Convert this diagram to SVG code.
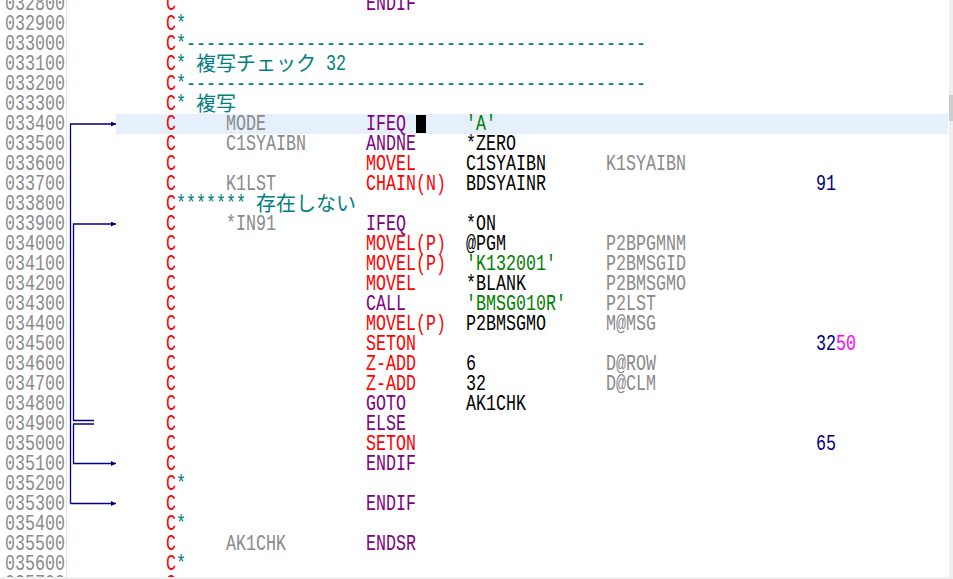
<svg xmlns="http://www.w3.org/2000/svg" width="953" height="579" viewBox="0 0 953 579">
<style>
text{font-family:"Liberation Mono","Noto Sans CJK JP",monospace;font-size:22px}
.j{font-family:"Noto Sans CJK JP","Noto Sans CJK SC",sans-serif;font-size:20px;fill:#008080}
.ln{fill:#8a8a8a}
.c{fill:#ff0000}
.cm{fill:#008080}
.f1{fill:#8a8a8a}
.op{fill:#800080}
.opr{fill:#ff0000}
.f2{fill:#000000}
.lit{fill:#008000}
.res{fill:#8a8a8a}
.ind{fill:#000080}
.ind2{fill:#ff00ff}
.cn{fill:none;stroke:#000080;stroke-width:1.3}
</style>
<defs>
<marker id="ah" markerUnits="userSpaceOnUse" markerWidth="6" markerHeight="6" refX="5" refY="2.5" orient="auto">
<path d="M0,0 L5,2.5 L0,5 z" fill="#000080"/>
</marker>
</defs>
<rect x="0" y="0" width="953" height="579" fill="#ffffff"/>
<line x1="66.5" y1="0" x2="66.5" y2="577" stroke="#e4e4e4" stroke-width="1"/>
<rect x="116" y="114" width="832" height="20" fill="#e6f0fc"/>
<rect x="416" y="115" width="10" height="18" fill="#000000"/>
<rect x="949" y="0" width="4" height="577" fill="#efefef"/>
<rect x="949" y="95" width="4" height="26" fill="#cdcdcd"/>
<rect x="0" y="577" width="953" height="2" fill="#efefef"/>

<g id="line-032800"><text class="ln" x="5" y="10" textLength="60" lengthAdjust="spacingAndGlyphs">032800</text><text class="c" x="166" y="10" textLength="10" lengthAdjust="spacingAndGlyphs">C</text><text class="op" x="366" y="10" textLength="50" lengthAdjust="spacingAndGlyphs">ENDIF</text></g>
<g id="line-032900"><text class="ln" x="5" y="30" textLength="60" lengthAdjust="spacingAndGlyphs">032900</text><text class="c" x="166" y="30" textLength="10" lengthAdjust="spacingAndGlyphs">C</text><text class="cm" x="176" y="30" textLength="10" lengthAdjust="spacingAndGlyphs">*</text></g>
<g id="line-033000"><text class="ln" x="5" y="50" textLength="60" lengthAdjust="spacingAndGlyphs">033000</text><text class="c" x="166" y="50" textLength="10" lengthAdjust="spacingAndGlyphs">C</text><text class="cm" x="176" y="50" textLength="470" lengthAdjust="spacingAndGlyphs">*----------------------------------------------</text></g>
<g id="line-033100"><text class="ln" x="5" y="70" textLength="60" lengthAdjust="spacingAndGlyphs">033100</text><text class="c" x="166" y="70" textLength="10" lengthAdjust="spacingAndGlyphs">C</text><text class="cm" x="176" y="70" textLength="10" lengthAdjust="spacingAndGlyphs">*</text><text class="j" x="196" y="71">複写チェック</text><text class="cm" x="326" y="70" textLength="20" lengthAdjust="spacingAndGlyphs">32</text></g>
<g id="line-033200"><text class="ln" x="5" y="90" textLength="60" lengthAdjust="spacingAndGlyphs">033200</text><text class="c" x="166" y="90" textLength="10" lengthAdjust="spacingAndGlyphs">C</text><text class="cm" x="176" y="90" textLength="470" lengthAdjust="spacingAndGlyphs">*----------------------------------------------</text></g>
<g id="line-033300"><text class="ln" x="5" y="110" textLength="60" lengthAdjust="spacingAndGlyphs">033300</text><text class="c" x="166" y="110" textLength="10" lengthAdjust="spacingAndGlyphs">C</text><text class="cm" x="176" y="110" textLength="10" lengthAdjust="spacingAndGlyphs">*</text><text class="j" x="196" y="111">複写</text></g>
<g id="line-033400"><text class="ln" x="5" y="130" textLength="60" lengthAdjust="spacingAndGlyphs">033400</text><text class="c" x="166" y="130" textLength="10" lengthAdjust="spacingAndGlyphs">C</text><text class="f1" x="226" y="130" textLength="40" lengthAdjust="spacingAndGlyphs">MODE</text><text class="op" x="366" y="130" textLength="40" lengthAdjust="spacingAndGlyphs">IFEQ</text><text class="lit" x="466" y="130" textLength="30" lengthAdjust="spacingAndGlyphs">'A'</text></g>
<g id="line-033500"><text class="ln" x="5" y="150" textLength="60" lengthAdjust="spacingAndGlyphs">033500</text><text class="c" x="166" y="150" textLength="10" lengthAdjust="spacingAndGlyphs">C</text><text class="f1" x="226" y="150" textLength="80" lengthAdjust="spacingAndGlyphs">C1SYAIBN</text><text class="op" x="366" y="150" textLength="50" lengthAdjust="spacingAndGlyphs">ANDNE</text><text class="f2" x="466" y="150" textLength="50" lengthAdjust="spacingAndGlyphs">*ZERO</text></g>
<g id="line-033600"><text class="ln" x="5" y="170" textLength="60" lengthAdjust="spacingAndGlyphs">033600</text><text class="c" x="166" y="170" textLength="10" lengthAdjust="spacingAndGlyphs">C</text><text class="opr" x="366" y="170" textLength="50" lengthAdjust="spacingAndGlyphs">MOVEL</text><text class="f2" x="466" y="170" textLength="80" lengthAdjust="spacingAndGlyphs">C1SYAIBN</text><text class="res" x="606" y="170" textLength="80" lengthAdjust="spacingAndGlyphs">K1SYAIBN</text></g>
<g id="line-033700"><text class="ln" x="5" y="190" textLength="60" lengthAdjust="spacingAndGlyphs">033700</text><text class="c" x="166" y="190" textLength="10" lengthAdjust="spacingAndGlyphs">C</text><text class="f1" x="226" y="190" textLength="50" lengthAdjust="spacingAndGlyphs">K1LST</text><text class="opr" x="366" y="190" textLength="80" lengthAdjust="spacingAndGlyphs">CHAIN(N)</text><text class="f2" x="466" y="190" textLength="80" lengthAdjust="spacingAndGlyphs">BDSYAINR</text><text class="ind" x="816" y="190" textLength="20" lengthAdjust="spacingAndGlyphs">91</text></g>
<g id="line-033800"><text class="ln" x="5" y="210" textLength="60" lengthAdjust="spacingAndGlyphs">033800</text><text class="c" x="166" y="210" textLength="10" lengthAdjust="spacingAndGlyphs">C</text><text class="cm" x="176" y="210" textLength="70" lengthAdjust="spacingAndGlyphs">*******</text><text class="j" x="256" y="211">存在しない</text></g>
<g id="line-033900"><text class="ln" x="5" y="230" textLength="60" lengthAdjust="spacingAndGlyphs">033900</text><text class="c" x="166" y="230" textLength="10" lengthAdjust="spacingAndGlyphs">C</text><text class="f1" x="226" y="230" textLength="50" lengthAdjust="spacingAndGlyphs">*IN91</text><text class="op" x="366" y="230" textLength="40" lengthAdjust="spacingAndGlyphs">IFEQ</text><text class="f2" x="466" y="230" textLength="30" lengthAdjust="spacingAndGlyphs">*ON</text></g>
<g id="line-034000"><text class="ln" x="5" y="250" textLength="60" lengthAdjust="spacingAndGlyphs">034000</text><text class="c" x="166" y="250" textLength="10" lengthAdjust="spacingAndGlyphs">C</text><text class="opr" x="366" y="250" textLength="80" lengthAdjust="spacingAndGlyphs">MOVEL(P)</text><text class="f2" x="466" y="250" textLength="40" lengthAdjust="spacingAndGlyphs">@PGM</text><text class="res" x="606" y="250" textLength="80" lengthAdjust="spacingAndGlyphs">P2BPGMNM</text></g>
<g id="line-034100"><text class="ln" x="5" y="270" textLength="60" lengthAdjust="spacingAndGlyphs">034100</text><text class="c" x="166" y="270" textLength="10" lengthAdjust="spacingAndGlyphs">C</text><text class="opr" x="366" y="270" textLength="80" lengthAdjust="spacingAndGlyphs">MOVEL(P)</text><text class="lit" x="466" y="270" textLength="90" lengthAdjust="spacingAndGlyphs">'K132001'</text><text class="res" x="606" y="270" textLength="80" lengthAdjust="spacingAndGlyphs">P2BMSGID</text></g>
<g id="line-034200"><text class="ln" x="5" y="290" textLength="60" lengthAdjust="spacingAndGlyphs">034200</text><text class="c" x="166" y="290" textLength="10" lengthAdjust="spacingAndGlyphs">C</text><text class="opr" x="366" y="290" textLength="50" lengthAdjust="spacingAndGlyphs">MOVEL</text><text class="f2" x="466" y="290" textLength="60" lengthAdjust="spacingAndGlyphs">*BLANK</text><text class="res" x="606" y="290" textLength="80" lengthAdjust="spacingAndGlyphs">P2BMSGMO</text></g>
<g id="line-034300"><text class="ln" x="5" y="310" textLength="60" lengthAdjust="spacingAndGlyphs">034300</text><text class="c" x="166" y="310" textLength="10" lengthAdjust="spacingAndGlyphs">C</text><text class="op" x="366" y="310" textLength="40" lengthAdjust="spacingAndGlyphs">CALL</text><text class="lit" x="466" y="310" textLength="100" lengthAdjust="spacingAndGlyphs">'BMSG010R'</text><text class="res" x="606" y="310" textLength="50" lengthAdjust="spacingAndGlyphs">P2LST</text></g>
<g id="line-034400"><text class="ln" x="5" y="330" textLength="60" lengthAdjust="spacingAndGlyphs">034400</text><text class="c" x="166" y="330" textLength="10" lengthAdjust="spacingAndGlyphs">C</text><text class="opr" x="366" y="330" textLength="80" lengthAdjust="spacingAndGlyphs">MOVEL(P)</text><text class="f2" x="466" y="330" textLength="80" lengthAdjust="spacingAndGlyphs">P2BMSGMO</text><text class="res" x="606" y="330" textLength="50" lengthAdjust="spacingAndGlyphs">M@MSG</text></g>
<g id="line-034500"><text class="ln" x="5" y="350" textLength="60" lengthAdjust="spacingAndGlyphs">034500</text><text class="c" x="166" y="350" textLength="10" lengthAdjust="spacingAndGlyphs">C</text><text class="opr" x="366" y="350" textLength="50" lengthAdjust="spacingAndGlyphs">SETON</text><text class="ind" x="816" y="350" textLength="20" lengthAdjust="spacingAndGlyphs">32</text><text class="ind2" x="836" y="350" textLength="20" lengthAdjust="spacingAndGlyphs">50</text></g>
<g id="line-034600"><text class="ln" x="5" y="370" textLength="60" lengthAdjust="spacingAndGlyphs">034600</text><text class="c" x="166" y="370" textLength="10" lengthAdjust="spacingAndGlyphs">C</text><text class="opr" x="366" y="370" textLength="50" lengthAdjust="spacingAndGlyphs">Z-ADD</text><text class="f2" x="466" y="370" textLength="10" lengthAdjust="spacingAndGlyphs">6</text><text class="res" x="606" y="370" textLength="50" lengthAdjust="spacingAndGlyphs">D@ROW</text></g>
<g id="line-034700"><text class="ln" x="5" y="390" textLength="60" lengthAdjust="spacingAndGlyphs">034700</text><text class="c" x="166" y="390" textLength="10" lengthAdjust="spacingAndGlyphs">C</text><text class="opr" x="366" y="390" textLength="50" lengthAdjust="spacingAndGlyphs">Z-ADD</text><text class="f2" x="466" y="390" textLength="20" lengthAdjust="spacingAndGlyphs">32</text><text class="res" x="606" y="390" textLength="50" lengthAdjust="spacingAndGlyphs">D@CLM</text></g>
<g id="line-034800"><text class="ln" x="5" y="410" textLength="60" lengthAdjust="spacingAndGlyphs">034800</text><text class="c" x="166" y="410" textLength="10" lengthAdjust="spacingAndGlyphs">C</text><text class="op" x="366" y="410" textLength="40" lengthAdjust="spacingAndGlyphs">GOTO</text><text class="f2" x="466" y="410" textLength="60" lengthAdjust="spacingAndGlyphs">AK1CHK</text></g>
<g id="line-034900"><text class="ln" x="5" y="430" textLength="60" lengthAdjust="spacingAndGlyphs">034900</text><text class="c" x="166" y="430" textLength="10" lengthAdjust="spacingAndGlyphs">C</text><text class="op" x="366" y="430" textLength="40" lengthAdjust="spacingAndGlyphs">ELSE</text></g>
<g id="line-035000"><text class="ln" x="5" y="450" textLength="60" lengthAdjust="spacingAndGlyphs">035000</text><text class="c" x="166" y="450" textLength="10" lengthAdjust="spacingAndGlyphs">C</text><text class="opr" x="366" y="450" textLength="50" lengthAdjust="spacingAndGlyphs">SETON</text><text class="ind" x="816" y="450" textLength="20" lengthAdjust="spacingAndGlyphs">65</text></g>
<g id="line-035100"><text class="ln" x="5" y="470" textLength="60" lengthAdjust="spacingAndGlyphs">035100</text><text class="c" x="166" y="470" textLength="10" lengthAdjust="spacingAndGlyphs">C</text><text class="op" x="366" y="470" textLength="50" lengthAdjust="spacingAndGlyphs">ENDIF</text></g>
<g id="line-035200"><text class="ln" x="5" y="490" textLength="60" lengthAdjust="spacingAndGlyphs">035200</text><text class="c" x="166" y="490" textLength="10" lengthAdjust="spacingAndGlyphs">C</text><text class="cm" x="176" y="490" textLength="10" lengthAdjust="spacingAndGlyphs">*</text></g>
<g id="line-035300"><text class="ln" x="5" y="510" textLength="60" lengthAdjust="spacingAndGlyphs">035300</text><text class="c" x="166" y="510" textLength="10" lengthAdjust="spacingAndGlyphs">C</text><text class="op" x="366" y="510" textLength="50" lengthAdjust="spacingAndGlyphs">ENDIF</text></g>
<g id="line-035400"><text class="ln" x="5" y="530" textLength="60" lengthAdjust="spacingAndGlyphs">035400</text><text class="c" x="166" y="530" textLength="10" lengthAdjust="spacingAndGlyphs">C</text><text class="cm" x="176" y="530" textLength="10" lengthAdjust="spacingAndGlyphs">*</text></g>
<g id="line-035500"><text class="ln" x="5" y="550" textLength="60" lengthAdjust="spacingAndGlyphs">035500</text><text class="c" x="166" y="550" textLength="10" lengthAdjust="spacingAndGlyphs">C</text><text class="f1" x="226" y="550" textLength="60" lengthAdjust="spacingAndGlyphs">AK1CHK</text><text class="op" x="366" y="550" textLength="50" lengthAdjust="spacingAndGlyphs">ENDSR</text></g>
<g id="line-035600"><text class="ln" x="5" y="570" textLength="60" lengthAdjust="spacingAndGlyphs">035600</text><text class="c" x="166" y="570" textLength="10" lengthAdjust="spacingAndGlyphs">C</text><text class="cm" x="176" y="570" textLength="10" lengthAdjust="spacingAndGlyphs">*</text></g>
<g id="line-035700"><text class="ln" x="5" y="590" textLength="60" lengthAdjust="spacingAndGlyphs">035700</text><text class="c" x="166" y="590" textLength="10" lengthAdjust="spacingAndGlyphs">C</text></g>

<g id="connectors">
<path class="cn" d="M70.5,503.5 V124 H116" marker-end="url(#ah)"/>
<path class="cn" d="M70.5,503.5 H116" marker-end="url(#ah)"/>
<path class="cn" d="M94,420.5 H73.5 V224 H116" marker-end="url(#ah)"/>
<path class="cn" d="M94,424 H73.5 V463.5 H116" marker-end="url(#ah)"/>
</g>
<rect x="0" y="577" width="949" height="2" fill="#efefef"/>
</svg>
